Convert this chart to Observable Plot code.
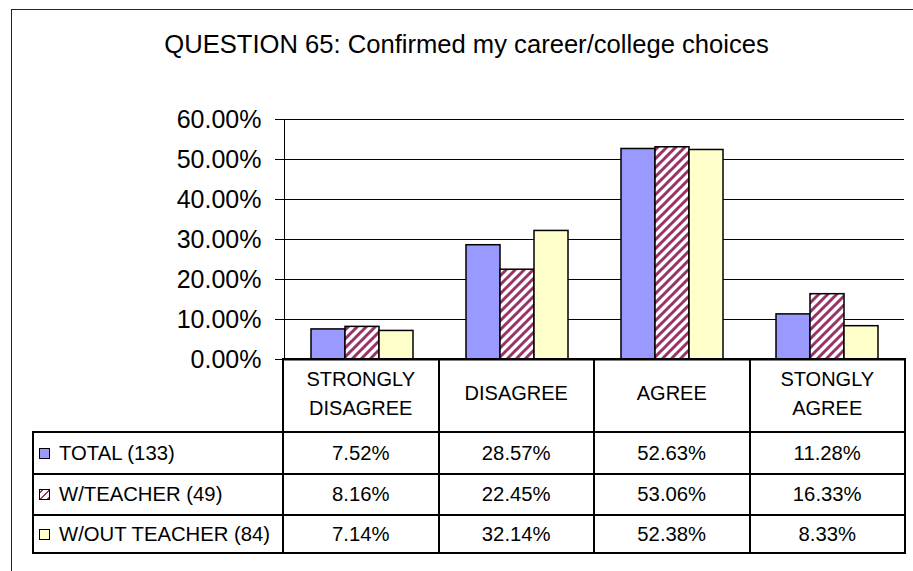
<!DOCTYPE html>
<html><head><meta charset="utf-8">
<script src="https://cdn.jsdelivr.net/npm/d3@7"></script>
<script src="https://cdn.jsdelivr.net/npm/@observablehq/plot@0.6"></script>
<style>
body{margin:0;background:#fff;}
#wrap{position:relative;width:913px;height:571px;overflow:hidden;font-family:"Liberation Sans",Arial,sans-serif;color:#000;background:#fff;}
#frame{position:absolute;left:11px;top:9px;width:930px;height:600px;border:1px solid #222;box-sizing:border-box;}
#title{position:absolute;left:11px;width:911px;top:29px;line-height:30px;font-size:25.6px;text-align:center;white-space:nowrap;}
#chart{position:absolute;left:0;top:80px;}
.hl{position:absolute;height:2px;background:#000;}
.vl{position:absolute;width:2px;background:#000;}
.cell{position:absolute;display:flex;align-items:center;justify-content:center;text-align:center;white-space:nowrap;}
.head{font-size:20px;line-height:29px;}
.body{font-size:20.3px;}
.leg{justify-content:flex-start;}
.sw{display:inline-block;width:11px;height:11px;border:1px solid #000;box-sizing:border-box;margin-left:6px;margin-right:9px;}
</style></head>
<body><div id="wrap"><div id="frame"></div><div id="title"></div><div id="chart"></div><div id="table"></div></div>
<script>
const titleText = "QUESTION 65: Confirmed my career/college choices";
const categories = ["STRONGLY DISAGREE", "DISAGREE", "AGREE", "STONGLY AGREE"];
const headerLabels = [["STRONGLY", "DISAGREE"], ["DISAGREE"], ["AGREE"], ["STONGLY", "AGREE"]];
const seriesNames = ["TOTAL (133)", "W/TEACHER (49)", "W/OUT TEACHER (84)"];
const totalValues = [0.0752, 0.2857, 0.5263, 0.1128];
const withTeacherValues = [0.0816, 0.2245, 0.5306, 0.1633];
const withoutTeacherValues = [0.0714, 0.3214, 0.5238, 0.0833];
const yTicks = [0, 0.1, 0.2, 0.3, 0.4, 0.5, 0.6];
const seriesFills = ["#9999FF", "url(#hatch)", "#FFFFCC"];
const swatchBackgrounds = ["#9999FF", "repeating-linear-gradient(-45deg,#993366 0 2px,#fff 2px 5px)", "#FFFFCC"];

const seriesValues = [totalValues, withTeacherValues, withoutTeacherValues];
const rows = [];
categories.forEach((c, i) => seriesNames.forEach((s, j) => rows.push({category: c, series: s, value: seriesValues[j][i]})));

document.getElementById("title").textContent = titleText;

const fmt = d3.format(".2%");
const chart = Plot.plot({
  width: 913, height: 285,
  marginLeft: 283, marginRight: 8, marginTop: 39, marginBottom: 6,
  style: {fontFamily: '"Liberation Sans", Arial, sans-serif', fontSize: "25px", color: "#000", background: "transparent", overflow: "visible"},
  facet: {data: rows, x: "category"},
  fx: {domain: categories, padding: 0, axis: null},
  x: {domain: seriesNames, paddingInner: 0, paddingOuter: 0.75, axis: null},
  y: {domain: [0, 0.6], ticks: yTicks, tickFormat: fmt, tickSize: 9, tickPadding: 14, line: true, label: null},
  color: {domain: seriesNames, range: seriesFills},
  marks: [
    Plot.ruleY(yTicks.filter(t => t > 0), {stroke: "#000", strokeWidth: 1}),
    Plot.barY(rows, {x: "series", y: "value", fill: "series", stroke: "#000", strokeWidth: 1.5, inset: 0}),
    Plot.ruleY([0], {stroke: "#000", strokeWidth: 2})
  ]
});
const svg = d3.select(chart);
const pat = svg.insert("defs", ":first-child").append("pattern")
  .attr("id", "hatch").attr("patternUnits", "userSpaceOnUse").attr("width", 9).attr("height", 9);
pat.append("rect").attr("width", 9).attr("height", 9).attr("fill", "#fff");
pat.append("path").attr("d", "M-2,2 L2,-2 M0,9 L9,0 M7,11 L11,7").attr("stroke", "#993366").attr("stroke-width", 3);
document.getElementById("chart").appendChild(chart);

// data table below the chart
const xs = [33, 283, 438.5, 594, 749.5, 905];
const ys = [359, 432, 474, 515, 553];
const table = d3.select("#table");
table.append("div").attr("class", "hl").style("left", (xs[1] - 1) + "px").style("top", (ys[0] - 1) + "px").style("width", (xs[5] - xs[1] + 2) + "px");
ys.slice(1).forEach(y => table.append("div").attr("class", "hl").style("left", (xs[0] - 1) + "px").style("top", (y - 1) + "px").style("width", (xs[5] - xs[0] + 2) + "px"));
table.append("div").attr("class", "vl").style("left", (xs[0] - 1) + "px").style("top", (ys[1] - 1) + "px").style("height", (ys[4] - ys[1] + 2) + "px");
xs.slice(1).forEach(x => table.append("div").attr("class", "vl").style("left", (x - 1) + "px").style("top", (ys[0] - 1) + "px").style("height", (ys[4] - ys[0] + 2) + "px"));
headerLabels.forEach((lines, i) => {
  table.append("div").attr("class", "cell head")
    .style("left", xs[i + 1] + "px").style("width", (xs[i + 2] - xs[i + 1]) + "px")
    .style("top", (ys[0] - 2) + "px").style("height", (ys[1] - ys[0]) + "px")
    .html(lines.join("<br>"));
});
seriesNames.forEach((s, j) => {
  const top = ys[j + 1], h = ys[j + 2] - ys[j + 1];
  const leg = table.append("div").attr("class", "cell body leg")
    .style("left", xs[0] + "px").style("width", (xs[1] - xs[0]) + "px")
    .style("top", top + "px").style("height", h + "px");
  leg.append("span").attr("class", "sw").style("background", swatchBackgrounds[j]);
  leg.append("span").text(s);
  seriesValues[j].forEach((v, i) => {
    table.append("div").attr("class", "cell body")
      .style("left", xs[i + 1] + "px").style("width", (xs[i + 2] - xs[i + 1]) + "px")
      .style("top", top + "px").style("height", h + "px")
      .text(fmt(v));
  });
});
</script>
</body></html>
